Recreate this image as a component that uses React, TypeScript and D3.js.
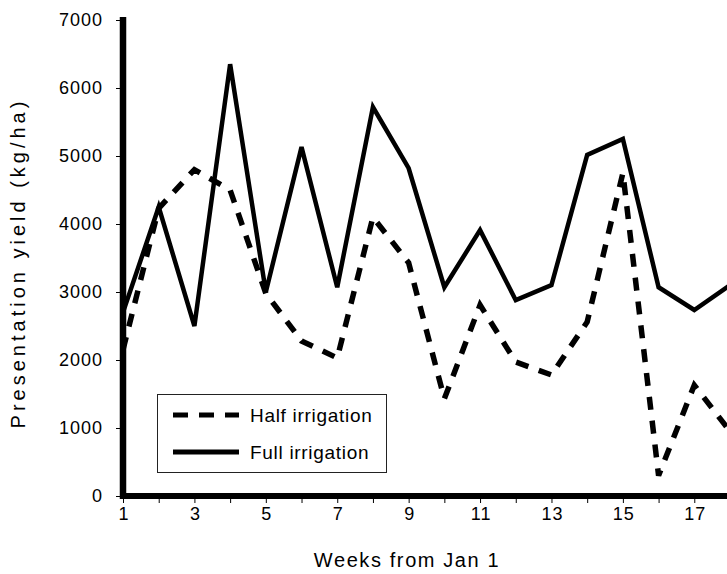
import React, { useEffect, useRef } from 'react';
import * as d3 from 'd3';

// weeks from Jan 1
const weeks = [1, 2, 3, 4, 5, 6, 7, 8, 9, 10, 11, 12, 13, 14, 15, 16, 17, 18];
// presentation yield (kg/ha)
const fullIrrigation = [2700, 4250, 2500, 6350, 3000, 5130, 3070, 5720, 4820, 3070, 3910, 2880, 3100, 5015, 5250, 3070, 2735, 3100];
const halfIrrigation = [2150, 4230, 4800, 4500, 2980, 2280, 2030, 4100, 3430, 1430, 2810, 1970, 1780, 2560, 4750, 300, 1630, 950];
const yTicks = [0, 1000, 2000, 3000, 4000, 5000, 6000, 7000];
const xLabelWeeks = [1, 3, 5, 7, 9, 11, 13, 15, 17];

const W = 727;
const H = 574;
const FONT = '"Liberation Sans", Arial, Helvetica, sans-serif';

const App = () => {
  const ref = useRef<SVGSVGElement>(null);

  useEffect(() => {
    const svg = d3.select(ref.current);
    svg.selectAll('*').remove();

    const x = d3.scaleLinear().domain([1, 18]).range([123, 730]);
    const y = d3.scaleLinear().domain([0, 7000]).range([496, 20]);

    const line = d3.line<number>()
      .x((d, i) => x(weeks[i]))
      .y((d) => y(d));

    // series
    svg.append('path')
      .attr('d', line(fullIrrigation))
      .attr('fill', 'none')
      .attr('stroke', '#000')
      .attr('stroke-width', 4.5)
      .attr('stroke-linejoin', 'miter');

    svg.append('path')
      .attr('d', line(halfIrrigation))
      .attr('fill', 'none')
      .attr('stroke', '#000')
      .attr('stroke-width', 5.5)
      .attr('stroke-dasharray', '13,11');

    // y axis
    const yAxis = d3.axisLeft(y).tickValues(yTicks).tickSize(7).tickFormat(() => '');
    const gy = svg.append('g').attr('transform', `translate(${x(1)},0)`).call(yAxis);
    gy.select('.domain').remove();
    gy.selectAll('.tick line').attr('stroke', '#000').attr('stroke-width', 1);

    svg.append('g')
      .selectAll('text')
      .data(yTicks)
      .enter()
      .append('text')
      .attr('x', 103)
      .attr('y', (d) => y(d))
      .attr('dy', '0.36em')
      .attr('text-anchor', 'end')
      .style('font-family', FONT)
      .style('font-size', '18px')
      .style('letter-spacing', '1px')
      .text((d) => d);

    // x axis
    const xAxis = d3.axisBottom(x).tickValues(weeks).tickSize(7).tickFormat(() => '');
    const gx = svg.append('g').attr('transform', `translate(0,${y(0)})`).call(xAxis);
    gx.select('.domain').remove();
    gx.selectAll('.tick line').attr('stroke', '#000').attr('stroke-width', 1);

    svg.append('g')
      .selectAll('text')
      .data(xLabelWeeks)
      .enter()
      .append('text')
      .attr('x', (d) => x(d) + 1)
      .attr('y', 520)
      .attr('text-anchor', 'middle')
      .style('font-family', FONT)
      .style('font-size', '18px')
      .style('letter-spacing', '1px')
      .text((d) => d);

    // axis lines
    svg.append('line')
      .attr('x1', x(1)).attr('x2', x(1))
      .attr('y1', 17).attr('y2', y(0) + 3)
      .attr('stroke', '#000')
      .attr('stroke-width', 6.5);
    svg.append('line')
      .attr('x1', x(1) - 3).attr('x2', W)
      .attr('y1', y(0)).attr('y2', y(0))
      .attr('stroke', '#000')
      .attr('stroke-width', 6);

    // axis titles
    svg.append('text')
      .attr('transform', `translate(25, 263) rotate(-90)`)
      .attr('text-anchor', 'middle')
      .style('font-family', FONT)
      .style('font-size', '20px')
      .style('letter-spacing', '4px')
      .text('Presentation yield (kg/ha)');

    svg.append('text')
      .attr('x', 407)
      .attr('y', 567)
      .attr('text-anchor', 'middle')
      .style('font-family', FONT)
      .style('font-size', '20px')
      .style('letter-spacing', '1.6px')
      .text('Weeks from Jan 1');

    // legend
    const legend = svg.append('g');
    legend.append('rect')
      .attr('x', 157.5).attr('y', 394.5)
      .attr('width', 229).attr('height', 78)
      .attr('fill', '#fff')
      .attr('stroke', '#222')
      .attr('stroke-width', 1);
    legend.append('line')
      .attr('x1', 173).attr('x2', 239)
      .attr('y1', 415).attr('y2', 415)
      .attr('stroke', '#000')
      .attr('stroke-width', 5)
      .attr('stroke-dasharray', '15,11');
    legend.append('line')
      .attr('x1', 173).attr('x2', 239)
      .attr('y1', 452).attr('y2', 452)
      .attr('stroke', '#000')
      .attr('stroke-width', 5);
    legend.append('text')
      .attr('x', 250).attr('y', 422)
      .style('font-family', FONT)
      .style('font-size', '19px')
      .style('letter-spacing', '0.7px')
      .text('Half irrigation');
    legend.append('text')
      .attr('x', 250).attr('y', 459)
      .style('font-family', FONT)
      .style('font-size', '19px')
      .style('letter-spacing', '0.7px')
      .text('Full irrigation');
  }, []);

  return (
    <svg
      ref={ref}
      width={W}
      height={H}
      style={{ position: 'absolute', left: 0, top: 0, background: '#fff' }}
    />
  );
};

export default App;
